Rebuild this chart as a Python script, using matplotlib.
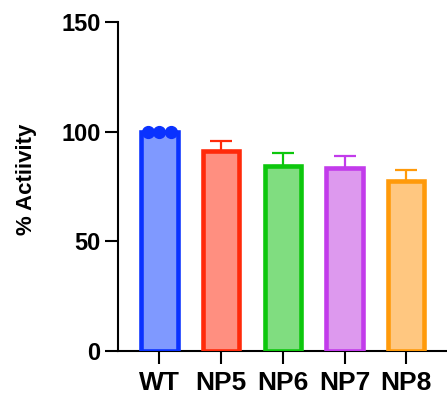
import matplotlib
matplotlib.use("Agg")
import matplotlib.pyplot as plt
import numpy as np

plt.rcParams['font.family'] = ['Liberation Sans', 'DejaVu Sans']

groups = ["WT", "NP5", "NP6", "NP7", "NP8"]
means = [100, 91, 84.5, 83.5, 77.5]
sds = [0, 4.5, 5.8, 5.5, 4.8]
wt_points = [100, 100, 100]
edge_colors = ["#0A32FF", "#FF2A0A", "#0DC70D", "#C23BEB", "#FF9A0A"]
fill_colors = ["#7F99FF", "#FF8F80", "#80DD80", "#DD99EE", "#FFC780"]
y_ticks = [0, 50, 100, 150]

fig = plt.figure(figsize=(4.47, 3.97), dpi=100)
ax = fig.add_axes([0.264, 0.116, 0.736, 0.829])

x = np.arange(len(groups))
width = 0.59
for i in range(len(groups)):
    if sds[i] > 0:
        ax.errorbar(x[i], means[i], yerr=[[0], [sds[i]]], fmt='none',
                    ecolor=edge_colors[i], elinewidth=1.6, capsize=8,
                    capthick=1.6, zorder=2)
    ax.bar(x[i], means[i], width=width, color=fill_colors[i],
           edgecolor=edge_colors[i], linewidth=3.3, zorder=3)

offsets = [-0.19, 0.0, 0.19]
ax.plot([x[0] + o for o in offsets], wt_points, 'o', color=edge_colors[0],
        markersize=8.5, zorder=4, clip_on=False)

ax.set_xlim(-0.67, 4.66)
ax.set_ylim(0, 150)
ax.set_yticks(y_ticks)
ax.set_xticks(x)
ax.set_xticklabels(groups, fontsize=19, fontweight='bold')
ax.tick_params(axis='y', labelsize=17, width=1.5, length=9.5, pad=3)
ax.tick_params(axis='x', width=1.5, length=9.5, pad=5)
for lbl in ax.get_yticklabels():
    lbl.set_fontweight('bold')

for s in ['top', 'right']:
    ax.spines[s].set_visible(False)
for s in ['left', 'bottom']:
    ax.spines[s].set_linewidth(1.5)

ax.set_ylabel("% Actiivity", fontsize=16, fontweight='bold')
ax.yaxis.set_label_coords(-0.245, 0.523)

fig.savefig("out.png", dpi=100)
